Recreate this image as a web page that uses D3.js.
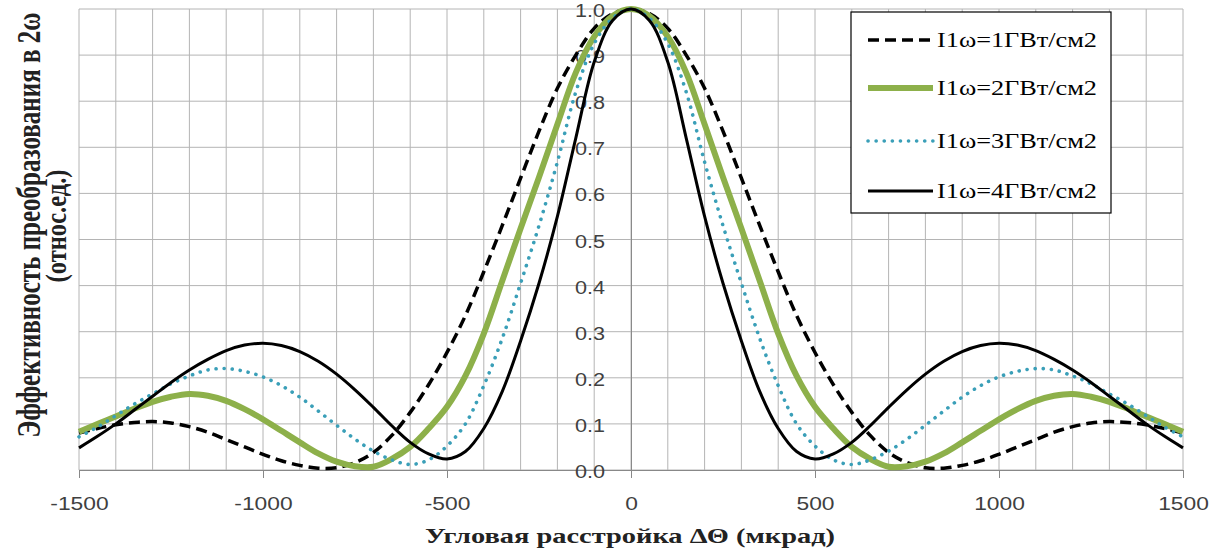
<!DOCTYPE html>
<html>
<head>
<meta charset="utf-8">
<script src="https://cdn.jsdelivr.net/npm/d3@7"></script>
<style>
    body { margin: 0; background: #fff; }
</style>
</head>
<body>
<svg id="chart" width="1221" height="550"></svg>
<script>
// angular detuning, mrad
const angles = [-1500, -1450, -1400, -1350, -1300, -1250, -1200, -1150, -1100, -1050, -1000, -950, -900, -850, -800, -750,
    -700, -650, -600, -550, -500, -450, -400, -350, -300, -250, -200, -150, -100, -50, 0,
    50, 100, 150, 200, 250, 300, 350, 400, 450, 500, 550, 600, 650, 700, 750, 800, 850, 900, 950, 1000,
    1050, 1100, 1150, 1200, 1250, 1300, 1350, 1400, 1450, 1500]

// conversion efficiency (rel. units), one array per intensity
const eff1 = [0.08, 0.09, 0.098, 0.103, 0.105, 0.102, 0.094, 0.082, 0.066, 0.05, 0.034, 0.02, 0.01, 0.004, 0.005, 0.016,
    0.038, 0.075, 0.125, 0.185, 0.255, 0.335, 0.43, 0.53, 0.633, 0.735, 0.828, 0.9, 0.958, 0.99, 1.0,
    0.99, 0.958, 0.9, 0.828, 0.735, 0.633, 0.53, 0.43, 0.335, 0.255, 0.185, 0.125, 0.075, 0.038, 0.016, 0.005, 0.004, 0.01, 0.02, 0.034,
    0.05, 0.066, 0.082, 0.094, 0.102, 0.105, 0.103, 0.098, 0.09, 0.08]
const eff2 = [0.083, 0.1, 0.116, 0.133, 0.148, 0.159, 0.165, 0.161, 0.15, 0.132, 0.11, 0.085, 0.06, 0.036, 0.018, 0.008,
    0.007, 0.024, 0.05, 0.09, 0.137, 0.204, 0.296, 0.41, 0.524, 0.635, 0.75, 0.862, 0.94, 0.985, 1.0,
    0.985, 0.94, 0.862, 0.75, 0.635, 0.524, 0.41, 0.296, 0.204, 0.137, 0.09, 0.05, 0.024, 0.007, 0.008, 0.018, 0.036, 0.06, 0.085, 0.11,
    0.132, 0.15, 0.161, 0.165, 0.159, 0.148, 0.133, 0.116, 0.1, 0.083]
const eff3 = [0.072, 0.093, 0.118, 0.143, 0.165, 0.187, 0.204, 0.217, 0.22, 0.214, 0.202, 0.183, 0.158, 0.128, 0.097, 0.067,
    0.041, 0.022, 0.012, 0.022, 0.052, 0.1, 0.183, 0.285, 0.405, 0.53, 0.668, 0.82, 0.925, 0.98, 1.0,
    0.98, 0.925, 0.82, 0.668, 0.53, 0.405, 0.285, 0.183, 0.1, 0.052, 0.022, 0.012, 0.022, 0.041, 0.067, 0.097, 0.128, 0.158, 0.183, 0.202,
    0.214, 0.22, 0.217, 0.204, 0.187, 0.165, 0.143, 0.118, 0.093, 0.072]
const eff4 = [0.048, 0.073, 0.1, 0.13, 0.16, 0.19, 0.217, 0.24, 0.259, 0.271, 0.275, 0.27, 0.257, 0.236, 0.208, 0.174,
    0.136, 0.096, 0.06, 0.035, 0.024, 0.04, 0.09, 0.17, 0.28, 0.405, 0.55, 0.72, 0.885, 0.975, 1.0,
    0.975, 0.885, 0.72, 0.55, 0.405, 0.28, 0.17, 0.09, 0.04, 0.024, 0.035, 0.06, 0.096, 0.136, 0.174, 0.208, 0.236, 0.257, 0.27, 0.275,
    0.271, 0.259, 0.24, 0.217, 0.19, 0.16, 0.13, 0.1, 0.073, 0.048]

const seriesNames = ['I1ω=1ГВт/см2', 'I1ω=2ГВт/см2', 'I1ω=3ГВт/см2', 'I1ω=4ГВт/см2']
const xTicks = [-1500, -1000, -500, 0, 500, 1000, 1500]
const yTicks = [0, 0.1, 0.2, 0.3, 0.4, 0.5, 0.6, 0.7, 0.8, 0.9, 1.0]
const xGrid = [-1500, -1400, -1300, -1200, -1100, -1000, -900, -800, -700, -600, -500, -400, -300, -200, -100, 0,
    100, 200, 300, 400, 500, 600, 700, 800, 900, 1000, 1100, 1200, 1300, 1400, 1500]

const xTitle = 'Угловая расстройка ΔΘ (мкрад)'
const yTitle1 = 'Эффективность преобразования в 2ω'
const yTitle2 = '(относ.ед.)'

const series = [
    { name: seriesNames[0], values: eff1, color: '#000', width: 3.5, dash: '11,6', cap: 'butt' },
    { name: seriesNames[1], values: eff2, color: '#8db04a', width: 6, dash: null, cap: 'butt' },
    { name: seriesNames[2], values: eff3, color: '#3a9fb8', width: 3.6, dash: '0.1,8', cap: 'round' },
    { name: seriesNames[3], values: eff4, color: '#000', width: 3, dash: null, cap: 'butt' },
]

const plot = { left: 79, right: 1183, top: 9, bottom: 470 }

const svg = d3.select('#chart')
svg.append('rect').attr('width', 1221).attr('height', 550).attr('fill', '#fff')

const x = d3.scaleLinear().domain([-1500, 1500]).range([plot.left, plot.right])
const y = d3.scaleLinear().domain([0, 1]).range([plot.bottom, plot.top])

// grid
const grid = svg.append('g').attr('class', 'grid')
grid.selectAll('line.v').data(xGrid).enter().append('line')
    .attr('class', 'v')
    .attr('x1', d => x(d)).attr('x2', d => x(d))
    .attr('y1', plot.top).attr('y2', plot.bottom)
    .attr('stroke', '#b4b4b4').attr('stroke-width', 1)
grid.selectAll('line.h').data(yTicks).enter().append('line')
    .attr('class', 'h')
    .attr('x1', plot.left).attr('x2', plot.right)
    .attr('y1', d => y(d)).attr('y2', d => y(d))
    .attr('stroke', '#b4b4b4').attr('stroke-width', 1)

// x axis
const xAxis = svg.append('g')
    .attr('transform', `translate(0, ${plot.bottom})`)
    .call(d3.axisBottom(x).tickValues(xTicks).tickSize(8).tickPadding(19).tickFormat(d => String(d)))
xAxis.select('.domain').attr('stroke', '#888')
xAxis.selectAll('.tick line').attr('stroke', '#888')
xAxis.selectAll('text')
    .attr('fill', '#404040')
    .style('font-family', '"Liberation Sans", Arial, sans-serif')
    .style('font-size', '19px')

// y axis sits on x = 0
const yAxis = svg.append('g')
    .attr('transform', `translate(${x(0)}, 0)`)
    .call(d3.axisLeft(y).tickValues(yTicks).tickSize(0).tickPadding(26).tickFormat(d3.format('.1f')))
yAxis.select('.domain').attr('stroke', '#8a8a8a')
yAxis.selectAll('text')
    .attr('fill', '#404040')
    .attr('dy', '0.42em')
    .style('font-family', '"Liberation Sans", Arial, sans-serif')
    .style('font-size', '18px')

// stretch the tick labels a bit, the picture is wider than tall
svg.selectAll('.tick text').each(function () {
    const w = this.getComputedTextLength()
    d3.select(this).attr('textLength', w * 1.2).attr('lengthAdjust', 'spacingAndGlyphs')
})

// curves
const line = d3.line()
    .x((d, i) => x(angles[i]))
    .y(d => y(d))
    .curve(d3.curveCatmullRom.alpha(0.5))

svg.append('g').selectAll('path').data(series).enter().append('path')
    .attr('d', d => line(d.values))
    .attr('fill', 'none')
    .attr('stroke', d => d.color)
    .attr('stroke-width', d => d.width)
    .attr('stroke-dasharray', d => d.dash)
    .attr('stroke-linecap', d => d.cap)
    .attr('stroke-linejoin', 'round')

// legend
const legend = svg.append('g')
legend.append('rect')
    .attr('x', 851).attr('y', 12).attr('width', 260).attr('height', 201)
    .attr('fill', '#fff').attr('stroke', '#000').attr('stroke-width', 1.2)
const rowY = [40, 88, 141, 191]
const item = legend.selectAll('g.item').data(series).enter().append('g').attr('class', 'item')
item.append('line')
    .attr('x1', 868).attr('x2', 933)
    .attr('y1', (d, i) => rowY[i]).attr('y2', (d, i) => rowY[i])
    .attr('stroke', d => d.color)
    .attr('stroke-width', d => d.width)
    .attr('stroke-dasharray', d => d.dash)
    .attr('stroke-linecap', d => d.cap)
item.append('text')
    .attr('x', 937)
    .attr('y', (d, i) => rowY[i] + 7)
    .attr('textLength', 160).attr('lengthAdjust', 'spacingAndGlyphs')
    .style('font-family', '"Liberation Serif", "Times New Roman", serif')
    .style('font-size', '21px')
    .attr('fill', '#000')
    .text(d => d.name)

// titles
svg.append('text')
    .attr('x', 425).attr('y', 543)
    .attr('textLength', 410).attr('lengthAdjust', 'spacingAndGlyphs')
    .style('font-family', '"Liberation Serif", "Times New Roman", serif')
    .style('font-size', '21px').style('font-weight', 'bold')
    .attr('fill', '#222')
    .text(xTitle)

svg.append('text')
    .attr('transform', 'translate(40, 225) scale(1.5, 1) rotate(-90)')
    .attr('text-anchor', 'middle')
    .attr('textLength', 425).attr('lengthAdjust', 'spacingAndGlyphs')
    .style('font-family', '"Liberation Serif", "Times New Roman", serif')
    .style('font-size', '22px').style('font-weight', 'bold')
    .attr('fill', '#222')
    .text(yTitle1)

svg.append('text')
    .attr('transform', 'translate(66, 226) scale(1.5, 1) rotate(-90)')
    .attr('text-anchor', 'middle')
    .attr('textLength', 113).attr('lengthAdjust', 'spacingAndGlyphs')
    .style('font-family', '"Liberation Serif", "Times New Roman", serif')
    .style('font-size', '20px').style('font-weight', 'bold')
    .attr('fill', '#222')
    .text(yTitle2)
</script>
</body>
</html>
